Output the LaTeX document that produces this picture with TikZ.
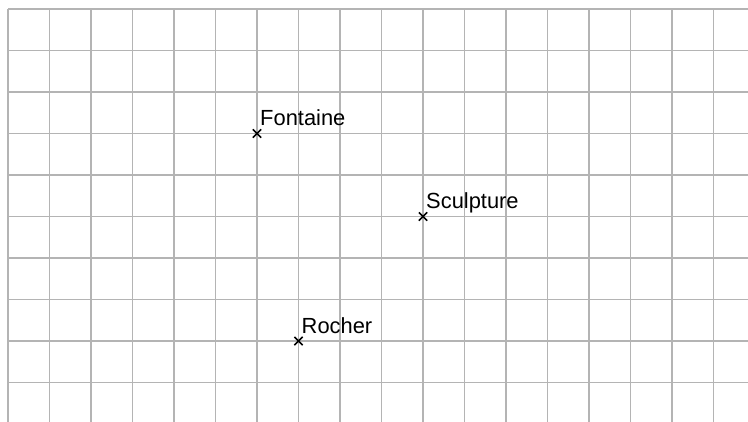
\documentclass[tikz,border=0pt]{standalone}
\usepackage{fontspec}
\setmainfont{Liberation Sans}
\usetikzlibrary{calc}
\begin{document}
\begin{tikzpicture}[x=1cm,y=1cm,
  gridline/.style={draw={rgb,255:red,180;green,180;blue,180}, line width=0.9pt},
  crossmark/.style={draw=black, line width=1.1pt},
  lbl/.style={anchor=base west, inner sep=0pt, font=\fontsize{15}{18}\selectfont}]
\useasboundingbox (-0.193,0.217) rectangle (17.83,-9.928);
\fill[white] (-0.193,0.217) rectangle (17.83,-9.928);
% grid
\foreach \i in {0,...,17} {\draw[gridline] (\i,0) -- (\i,-9.95);}
\foreach \j in {0,...,9} {\draw[gridline] (0,-\j) -- (17.85,-\j);}
% points
\coordinate (fontaine) at (6,-3);
\coordinate (sculpture) at (10,-5);
\coordinate (rocher) at (7,-8);
\foreach \p in {fontaine,sculpture,rocher} {
  \draw[crossmark] ($(\p)+(-0.1,-0.1)$) -- ($(\p)+(0.1,0.1)$);
  \draw[crossmark] ($(\p)+(-0.1,0.1)$) -- ($(\p)+(0.1,-0.1)$);
}
\node[lbl] (lf) at ($(fontaine)+(0.07,0.19)$) {Fontaine};
\node[lbl] (ls) at ($(sculpture)+(0.07,0.19)$) {Sculpture};
\node[lbl] (lr) at ($(rocher)+(0.07,0.17)$) {Rocher};
\end{tikzpicture}
\end{document}
